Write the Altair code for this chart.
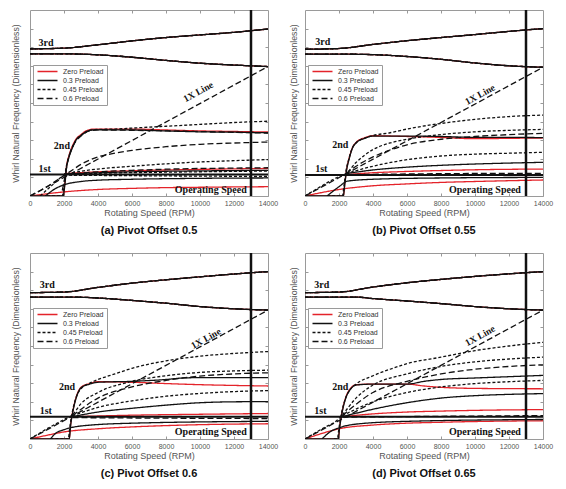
import altair as alt
import pandas as pd

# ---------------- shared values ----------------
X_TICKS = [0, 2000, 4000, 6000, 8000, 10000, 12000, 14000]
Y_TICKS = [1, 2, 3, 4, 5, 6, 7, 8, 9]
STYLES = ["Zero Preload", "0.3 Preload", "0.45 Preload", "0.6 Preload"]
STYLE_KEYS = {"Z": "Zero Preload", "P3": "0.3 Preload", "P45": "0.45 Preload", "P6": "0.6 Preload"}
STYLE_COLORS = ["#e4232a", "#111111", "#111111", "#111111"]
STYLE_DASHES = [[1, 0], [1, 0], [3, 2], [6, 3]]

# ---------------- panel (a) Pivot Offset 0.5 ----------------
A_TITLE = "(a) Pivot Offset 0.5"
A_FIRST = [1.16]
A_OP = [13000]
A_1X = [(0, 0), (14000, 6.96)]
A_3RD_UP = [(0, 7.91), (2000, 7.95), (4000, 8.13), (6000, 8.34), (8000, 8.52), (10000, 8.66), (12000, 8.8), (14000, 8.98)]
A_3RD_LO = [(0, 7.64), (2000, 7.64), (4000, 7.59), (6000, 7.46), (8000, 7.29), (10000, 7.14), (12000, 7.04), (14000, 6.96)]
A_2ND_Z = [(0, 0), (1950, 0), (2050, 0.7), (2150, 1.6), (2300, 2.2), (2500, 2.7), (2700, 3.05), (3000, 3.3), (3300, 3.5), (3800, 3.6), (6000, 3.6), (8000, 3.55), (10000, 3.5), (12000, 3.47), (14000, 3.44)]
A_2ND_P3 = [(0, 0), (1950, 0), (2050, 0.6), (2150, 1.5), (2300, 2.1), (2500, 2.6), (2700, 3.0), (3000, 3.25), (3300, 3.45), (3800, 3.56), (6000, 3.55), (8000, 3.5), (10000, 3.45), (12000, 3.43), (14000, 3.4)]
A_2ND_P45 = [(1000, 0), (1900, 0), (2000, 0.6), (2100, 1.4), (2250, 2.0), (2450, 2.55), (2700, 2.98), (3000, 3.25), (3300, 3.45), (3800, 3.57), (5000, 3.6), (6000, 3.65), (8000, 3.75), (10000, 3.85), (12000, 3.95), (14000, 4.02)]
A_2ND_P6 = [(1900, 0.3), (2050, 1.0), (2200, 1.8), (2400, 2.4), (2700, 2.95), (3000, 3.22), (3500, 3.5), (4000, 3.55), (8000, 3.5), (14000, 3.38)]
A_BR_P6 = [(0, 0), (1000, 0.5), (2000, 1.1), (2500, 1.4), (3000, 1.7), (4000, 2.1), (5000, 2.3), (6000, 2.45), (8000, 2.65), (10000, 2.78), (12000, 2.85), (14000, 2.9)]
A_BR_P45 = [(600, 0), (1200, 0.5), (2000, 1.1), (3000, 1.33), (4000, 1.45), (6000, 1.6), (8000, 1.73), (10000, 1.83), (12000, 1.9), (14000, 1.96)]
A_BR2_P6 = [(2100, 1.15), (4000, 1.3), (6000, 1.38), (8000, 1.44), (10000, 1.48), (12000, 1.5), (14000, 1.52)]
A_BR2_P45 = [(2000, 1.15), (4000, 1.22), (8000, 1.28), (14000, 1.34)]
A_BR_Z = [(2000, 1.2), (4000, 1.3), (6000, 1.36), (8000, 1.4), (10000, 1.43), (12000, 1.46), (14000, 1.48)]
A_BR_P3 = [(2000, 1.18), (6000, 1.3), (10000, 1.35), (14000, 1.38)]
A_FLAT_P45 = [(2000, 1.12), (8000, 1.08), (14000, 1.05)]
A_LOW_P3 = [(900, 0), (1500, 0.4), (2000, 0.6), (3000, 0.78), (4000, 0.85), (6000, 0.9), (10000, 0.95), (14000, 0.97)]
A_LOW_Z = [(0, 0), (1000, 0.12), (2000, 0.22), (4000, 0.35), (6000, 0.41), (8000, 0.45), (10000, 0.47), (14000, 0.5)]
A_NOTES = [("3rd", 500, 8.2, "L"), ("1st", 500, 1.45, "L"), ("2nd", 2350, 2.7, "R"),
           ("Operating Speed", 12750, 0.33, "R"), ("1X Line", 9900, 5.6, "X")]

# ---------------- panel (b) Pivot Offset 0.55 ----------------
B_TITLE = "(b) Pivot Offset 0.55"
B_FIRST = [1.13]
B_OP = [13000]
B_1X = [(0, 0), (14000, 6.92)]
B_3RD_UP = [(0, 7.89), (2000, 7.93), (4000, 8.15), (6000, 8.35), (8000, 8.52), (10000, 8.68), (12000, 8.85), (14000, 9.0)]
B_3RD_LO = [(0, 7.63), (3000, 7.62), (4000, 7.6), (6000, 7.5), (8000, 7.35), (10000, 7.15), (12000, 7.0), (14000, 6.92)]
B_2ND_Z = [(0, 0), (2250, 0), (2350, 0.75), (2450, 1.45), (2600, 2.05), (2800, 2.62), (3000, 2.88), (3500, 3.13), (4000, 3.24), (6000, 3.2), (8000, 3.15), (10000, 3.08), (12000, 3.1), (14000, 3.12)]
B_2ND_P3 = [(0, 0), (2250, 0), (2350, 0.7), (2450, 1.4), (2600, 2.0), (2800, 2.6), (3000, 2.85), (3500, 3.1), (4000, 3.22), (6000, 3.22), (8000, 3.2), (10000, 3.15), (12000, 3.15), (14000, 3.14)]
B_2ND_P45 = [(1300, 0), (2200, 0), (2300, 0.6), (2400, 1.3), (2550, 1.9), (2750, 2.5), (3000, 2.85), (3500, 3.1), (4000, 3.25), (5000, 3.4), (6000, 3.6), (8000, 3.9), (10000, 4.12), (12000, 4.27), (14000, 4.35)]
B_BR_P45 = [(0, 0), (1000, 0.55), (2000, 1.05), (2400, 1.2), (3000, 1.8), (4000, 2.5), (5000, 2.85), (6000, 3.05), (8000, 3.3), (10000, 3.45), (12000, 3.53), (14000, 3.58)]
B_BR_P6 = [(2400, 1.2), (3000, 1.6), (4000, 2.1), (6000, 2.75), (8000, 3.05), (10000, 3.2), (12000, 3.3), (14000, 3.37)]
B_BR2_P45 = [(2400, 1.2), (4000, 1.6), (6000, 1.95), (8000, 2.15), (10000, 2.25), (12000, 2.3), (14000, 2.35)]
B_BR_P3 = [(2400, 1.2), (4000, 1.4), (6000, 1.55), (8000, 1.65), (10000, 1.72), (12000, 1.77), (14000, 1.81)]
B_BR_Z = [(2400, 1.15), (4000, 1.25), (6000, 1.32), (8000, 1.37), (10000, 1.41), (14000, 1.45)]
B_FLAT_P6 = [(2400, 1.15), (8000, 1.2), (14000, 1.22)]
B_LOW_P3 = [(1300, 0), (2000, 0.5), (2500, 0.8), (4000, 0.9), (8000, 0.97), (14000, 1.0)]
B_LOW_Z = [(0, 0), (2000, 0.35), (4000, 0.55), (6000, 0.65), (8000, 0.73), (10000, 0.78), (14000, 0.86)]
B_NOTES = [("3rd", 600, 8.3, "L"), ("1st", 600, 1.45, "L"), ("2nd", 2550, 2.75, "R"),
           ("Operating Speed", 12700, 0.33, "R"), ("1X Line", 10300, 5.45, "X")]

# ---------------- panel (c) Pivot Offset 0.6 ----------------
C_TITLE = "(c) Pivot Offset 0.6"
C_FIRST = [1.19]
C_OP = [13000]
C_1X = [(0, 0), (14000, 6.93)]
C_3RD_UP = [(0, 7.87), (2000, 7.9), (4000, 8.15), (6000, 8.38), (8000, 8.56), (10000, 8.72), (12000, 8.87), (14000, 9.0)]
C_3RD_LO = [(0, 7.63), (3000, 7.62), (4000, 7.58), (6000, 7.45), (8000, 7.3), (10000, 7.12), (12000, 7.0), (14000, 6.93)]
C_2ND_Z = [(0, 0), (2300, 0), (2400, 0.85), (2550, 1.65), (2750, 2.35), (3000, 2.78), (3500, 2.98), (4000, 3.08), (6000, 3.05), (8000, 2.98), (10000, 2.92), (12000, 2.88), (14000, 2.85)]
C_2ND_P3 = [(0, 0), (2300, 0), (2400, 0.8), (2550, 1.6), (2750, 2.3), (3000, 2.75), (3500, 2.95), (4000, 3.05), (6000, 3.1), (8000, 3.2), (9000, 3.28), (10000, 3.3), (14000, 3.3)]
C_2ND_P45 = [(1200, 0), (2250, 0), (2350, 0.7), (2500, 1.5), (2700, 2.2), (3000, 2.7), (3500, 3.0), (4000, 3.2), (5000, 3.5), (6000, 3.8), (8000, 4.2), (10000, 4.45), (12000, 4.6), (14000, 4.7)]
C_BR_P45 = [(0, 0), (1000, 0.55), (2000, 1.05), (2500, 1.3), (3000, 1.9), (4000, 2.5), (6000, 3.1), (8000, 3.4), (10000, 3.58), (12000, 3.66), (14000, 3.7)]
C_BR_P6 = [(2500, 1.25), (4000, 2.2), (6000, 2.8), (8000, 3.15), (10000, 3.38), (12000, 3.5), (14000, 3.56)]
C_BR2_P45 = [(2500, 1.25), (4000, 1.7), (6000, 2.05), (8000, 2.3), (10000, 2.45), (12000, 2.55), (14000, 2.6)]
C_BR_P3 = [(2500, 1.2), (4000, 1.45), (6000, 1.65), (8000, 1.82), (10000, 1.95), (12000, 2.0), (14000, 2.01)]
C_BR_Z = [(2500, 1.2), (6000, 1.28), (10000, 1.33), (14000, 1.37)]
C_FLAT_P6 = [(2500, 1.15), (8000, 1.12), (14000, 1.1)]
C_LOW_P3 = [(1200, 0), (1500, 0.3), (2000, 0.5), (3000, 0.7), (6000, 0.85), (14000, 0.95)]
C_LOW_Z = [(0, 0), (1000, 0.2), (2000, 0.38), (4000, 0.55), (6000, 0.65), (8000, 0.72), (10000, 0.77), (14000, 0.82)]
C_NOTES = [("3rd", 570, 8.3, "L"), ("1st", 570, 1.5, "L"), ("2nd", 2650, 2.8, "R"),
           ("Operating Speed", 12750, 0.4, "R"), ("1X Line", 10350, 5.4, "X")]

# ---------------- panel (d) Pivot Offset 0.65 ----------------
D_TITLE = "(d) Pivot Offset 0.65"
D_FIRST = [1.19]
D_OP = [13000]
D_1X = [(0, 0), (14000, 6.93)]
D_3RD_UP = [(0, 7.87), (2000, 7.9), (4000, 8.17), (6000, 8.4), (8000, 8.58), (10000, 8.74), (12000, 8.88), (14000, 9.0)]
D_3RD_LO = [(0, 7.63), (3000, 7.63), (4000, 7.55), (6000, 7.42), (8000, 7.28), (10000, 7.12), (12000, 7.0), (14000, 6.93)]
D_2ND_Z = [(0, 0), (1950, 0), (2050, 0.75), (2200, 1.55), (2400, 2.25), (2700, 2.75), (3000, 2.92), (4000, 2.95), (6000, 2.95), (7000, 2.85), (8000, 2.78), (10000, 2.72), (14000, 2.7)]
D_2ND_P3 = [(0, 0), (1950, 0), (2050, 0.7), (2200, 1.5), (2400, 2.2), (2700, 2.7), (3000, 2.9), (4000, 2.95), (6000, 2.95), (7000, 3.1), (8000, 3.2), (10000, 3.28), (12000, 3.35), (14000, 3.42)]
D_2ND_P45 = [(1700, 0), (1900, 0), (2000, 0.6), (2150, 1.4), (2350, 2.1), (2650, 2.65), (3000, 2.95), (4000, 3.4), (5000, 3.75), (6000, 4.05), (8000, 4.4), (10000, 4.75), (12000, 5.0), (14000, 5.2)]
D_BR_P45 = [(0, 0), (1000, 0.55), (2000, 1.1), (2200, 1.3), (3000, 2.2), (4000, 2.9), (6000, 3.5), (8000, 3.9), (10000, 4.15), (12000, 4.3), (14000, 4.4)]
D_BR_P6 = [(2200, 1.25), (4000, 2.5), (6000, 3.1), (8000, 3.5), (10000, 3.75), (12000, 3.9), (14000, 3.99)]
D_BR2_P45 = [(2200, 1.25), (4000, 2.0), (6000, 2.5), (8000, 2.8), (10000, 2.98), (12000, 3.08), (14000, 3.15)]
D_BR_P3 = [(2200, 1.2), (4000, 1.6), (6000, 1.95), (8000, 2.2), (10000, 2.33), (12000, 2.4), (14000, 2.44)]
D_BR_Z = [(2200, 1.2), (4000, 1.35), (6000, 1.45), (8000, 1.5), (10000, 1.54), (14000, 1.58)]
D_FLAT_P6 = [(2200, 1.18), (8000, 1.22), (14000, 1.26)]
D_LOW_P3 = [(1000, 0), (1500, 0.4), (2000, 0.6), (3000, 0.8), (6000, 0.95), (14000, 1.05)]
D_LOW_Z = [(0, 0), (1000, 0.3), (2000, 0.55), (4000, 0.75), (6000, 0.85), (8000, 0.9), (10000, 0.94), (14000, 0.98)]
D_NOTES = [("3rd", 550, 8.3, "L"), ("1st", 550, 1.5, "L"), ("2nd", 2550, 2.8, "R"),
           ("Operating Speed", 12700, 0.4, "R"), ("1X Line", 10300, 5.55, "X")]


def curves_of(p):
    """List of (style key, points) for one panel, drawn red first, then solid, then dashed."""
    g = globals()
    out = []
    for key in sorted(g):
        if not key.startswith(p + "_") or not isinstance(g[key], list):
            continue
        if key.endswith("_Z"):
            out.append(("Z", g[key]))
        elif key.endswith("_P3"):
            out.append(("P3", g[key]))
        elif key.endswith("_P45"):
            out.append(("P45", g[key]))
        elif key.endswith("_P6"):
            out.append(("P6", g[key]))
    # third-mode branches are shared by every preload
    for sk in ["Z", "P3", "P45", "P6"]:
        out.append((sk, g[p + "_3RD_UP"]))
        out.append((sk, g[p + "_3RD_LO"]))
    return out


FONT = "Liberation Sans"
LEG = alt.Legend(title=None, orient="none", legendX=3, legendY=55, fillColor="white",
                 strokeColor="#9a9a9a", padding=3, symbolType="M-4,0H4", symbolSize=25,
                 symbolStrokeWidth=1.5, symbolOffset=8, labelOffset=12, labelFontSize=7,
                 labelColor="#333333", labelFont=FONT, rowPadding=1)


def make_panel(p, title_pad):
    g = globals()
    rows = []
    for i, (sk, pts) in enumerate(curves_of(p)):
        for j, (r, v) in enumerate(pts):
            rows.append(dict(curve=i, style=STYLE_KEYS[sk], rpm=r, value=v, seq=j))
    df = pd.DataFrame(rows)
    xs = alt.Scale(domain=[0, 14000], nice=False, zero=False)
    ys = alt.Scale(domain=[0, 10], nice=False)
    color = alt.Color("style:N", scale=alt.Scale(domain=STYLES, range=STYLE_COLORS), legend=LEG)
    dash = alt.StrokeDash("style:N", scale=alt.Scale(domain=STYLES, range=STYLE_DASHES), legend=LEG)
    x_bottom = alt.Axis(values=X_TICKS, offset=-3, tickSize=3, domain=False, grid=False,
                        labelFontSize=7, labelColor="#555555", labelPadding=3, labelFont=FONT,
                        labelFlush=False, labelOverlap=False,
                        title="Rotating Speed (RPM)", titleFontSize=9, titleColor="#555555",
                        titleFontWeight="normal", titlePadding=2, titleFont=FONT,
                        tickColor="#999999", format="d")
    y_left = alt.Axis(values=Y_TICKS, offset=-3, tickSize=3, domain=False, grid=False,
                      labels=False, title="Whirl Natural Frequency (Dimensionless)",
                      titleFontSize=8.7, titleColor="#555555", titleFontWeight="normal",
                      titlePadding=title_pad, titleFont=FONT, tickColor="#999999")
    x_top = alt.Axis(orient="top", values=X_TICKS[1:-1], offset=-3, tickSize=3, domain=False,
                     grid=False, labels=False, title=None, tickColor="#999999")
    y_right = alt.Axis(orient="right", values=Y_TICKS, offset=-3, tickSize=3, domain=False,
                       grid=False, labels=False, title=None, tickColor="#999999")

    layers = []
    for k, s in enumerate(STYLES):
        sub = df[df["style"] == s]
        layers.append(
            alt.Chart(sub).mark_line(strokeWidth=1.3, interpolate="monotone", clip=True).encode(
                x=alt.X("rpm:Q", scale=xs, axis=x_bottom if k == 0 else None),
                y=alt.Y("value:Q", scale=ys, axis=y_left if k == 0 else None),
                color=color, strokeDash=dash, detail="curve:N", order="seq:Q"))
    one_x = pd.DataFrame(g[p + "_1X"], columns=["rpm", "value"])
    layers.append(alt.Chart(one_x).mark_line(color="#111111", strokeWidth=1.3, strokeDash=[6, 3], clip=True).encode(
        x=alt.X("rpm:Q", scale=xs, axis=x_top), y=alt.Y("value:Q", scale=ys, axis=y_right)))
    first = pd.DataFrame({"value": g[p + "_FIRST"]})
    layers.append(alt.Chart(first).mark_rule(color="#111111", strokeWidth=2).encode(
        y=alt.Y("value:Q", scale=ys, axis=None)))
    op = pd.DataFrame({"rpm": g[p + "_OP"]})
    layers.append(alt.Chart(op).mark_rule(color="#111111", strokeWidth=2.5).encode(
        x=alt.X("rpm:Q", scale=xs, axis=None)))
    notes = pd.DataFrame(g[p + "_NOTES"], columns=["label", "rpm", "value", "kind"])
    for kind, align, angle, size in [("L", "left", 0, 10), ("R", "right", 0, 10), ("X", "center", 331, 9.5)]:
        layers.append(alt.Chart(notes[notes["kind"] == kind]).mark_text(
            align=align, baseline="middle", angle=angle, font="Liberation Serif", fontWeight="bold",
            fontSize=size, color="#111111").encode(
            x=alt.X("rpm:Q", scale=xs, axis=None), y=alt.Y("value:Q", scale=ys, axis=None),
            text="label:N"))
    return alt.layer(*layers).resolve_axis(x="independent", y="independent").properties(
        width=238, height=186,
        title=alt.TitleParams(g[p + "_TITLE"], orient="bottom", anchor="middle", fontSize=11,
                              fontWeight="bold", font=FONT, color="#111111", offset=8))


chart = alt.concat(make_panel("A", 9), make_panel("B", 6), make_panel("C", 9), make_panel("D", 6),
                   columns=2, spacing={"row": 14, "column": 10}).resolve_scale(
    x="independent", y="independent", color="independent", strokeDash="independent"
).properties(padding={"left": 3, "top": 0, "right": 0, "bottom": 0}).configure_view(
    stroke="#9a9a9a", strokeWidth=1)

chart.save("out.html", embed_options={"renderer": "svg", "actions": False})
